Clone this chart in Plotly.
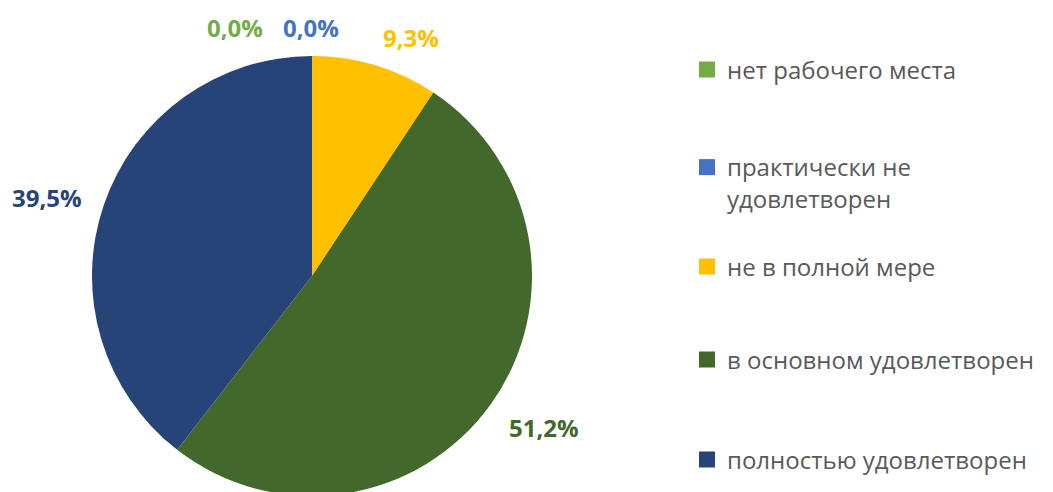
import plotly.graph_objects as go

categories = ["нет рабочего места", "практически не<br>удовлетворен", "не в полной мере",
              "в основном удовлетворен", "полностью удовлетворен"]
values = [0.0, 0.0, 9.3, 51.2, 39.5]
value_labels = ["0,0%", "0,0%", "9,3%", "51,2%", "39,5%"]
colors = ["#70AD47", "#4472C4", "#FFC000", "#43682B", "#264478"]

W, H = 1053, 500
FONT = "Open Sans"

fig = go.Figure()
fig.add_trace(go.Pie(
    values=values, labels=categories, sort=False, direction="clockwise", rotation=0,
    marker=dict(colors=colors, line=dict(width=0)),
    textinfo="none", hoverinfo="skip", showlegend=False,
    domain=dict(x=[92 / W, 532 / W], y=[1 - 496 / H, 1 - 56 / H]),
))

# legend entries, one legend box per item
legend_centers = [70, 183, 267, 360, 460]
legend_layout = {}
for i, (c, col, yc) in enumerate(zip(categories, colors, legend_centers)):
    key = "legend" if i == 0 else f"legend{i + 1}"
    fig.add_trace(go.Scatter(
        x=[None], y=[None], mode="markers", name=c, legend=key,
        marker=dict(symbol="square", size=17, color=col),
    ))
    legend_layout[key] = dict(
        x=687 / W, y=1 - yc / H, xanchor="left", yanchor="middle", valign="top",
        font=dict(family=FONT, size=24, color="#595959"), itemwidth=30,
        bgcolor="rgba(0,0,0,0)", borderwidth=0,
    )

# data labels
label_pos = [(235, 27), (311, 27), (411, 38), (544, 427), (47, 197)]
for (px, py), txt, col in zip(label_pos, value_labels, colors):
    fig.add_annotation(x=px / W, y=1 - py / H, xref="paper", yref="paper",
                       xanchor="center", yanchor="middle", text="<b>" + txt + "</b>",
                       showarrow=False, font=dict(family=FONT, size=24, color=col))

fig.update_layout(
    width=W, height=H, margin=dict(l=0, r=0, t=0, b=0),
    paper_bgcolor="white", plot_bgcolor="white",
    xaxis=dict(visible=False), yaxis=dict(visible=False),
    **legend_layout,
)
fig.write_html("out.html", config={"displayModeBar": False},
               post_script="document.body.style.margin='0';document.body.style.overflow='hidden';")
